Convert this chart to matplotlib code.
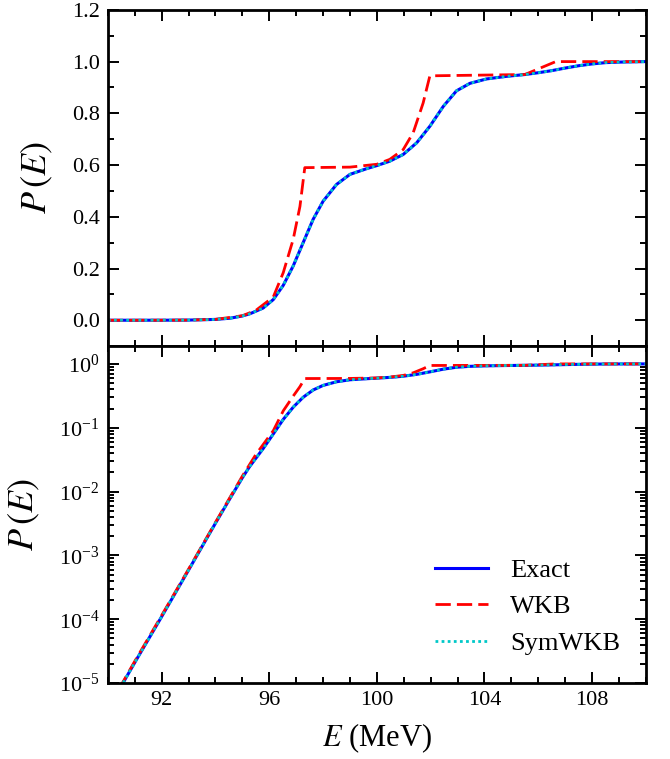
import matplotlib
matplotlib.use("Agg")
import matplotlib.pyplot as plt
from matplotlib.ticker import MultipleLocator, LogLocator, NullFormatter

plt.rcParams['font.family'] = ['Liberation Serif', 'DejaVu Serif']
plt.rcParams['mathtext.fontset'] = 'stix'

# values
energy = [90.0, 91.0, 92.0, 93.0, 94.0, 94.54, 95.0, 95.28, 95.77, 96.15, 96.52,
          96.89, 97.26, 97.63, 98.0, 98.5, 99.0, 99.62, 100.0, 100.48, 100.98,
          101.48, 101.97, 102.47, 102.96, 103.46, 104.08, 104.82, 105.5, 106.0,
          106.5, 107.0, 107.5, 108.0, 108.5, 109.0, 110.0]
p_exact = [3.9e-6, 2.1e-5, 1.1e-4, 5.9e-4, 3.2e-3, 7.8e-3, 0.0165, 0.025, 0.047,
           0.08, 0.135, 0.21, 0.30, 0.39, 0.46, 0.525, 0.564, 0.586, 0.598,
           0.615, 0.641, 0.686, 0.75, 0.827, 0.887, 0.916, 0.933, 0.943, 0.950,
           0.957, 0.965, 0.975, 0.984, 0.991, 0.996, 0.998, 1.0]
p_sym = list(p_exact)

energy_wkb = [90.0, 91.0, 92.0, 93.0, 94.0, 95.0, 95.5, 96.15, 96.52, 96.89, 97.14,
              97.32, 99.0, 100.0, 100.48, 100.98, 101.35, 101.72, 101.97, 105.5,
              106.65, 110.0]
p_wkb = [4.0e-6, 2.2e-5, 1.15e-4, 6.1e-4, 3.3e-3, 0.0175, 0.038, 0.09, 0.184,
         0.313, 0.44, 0.59, 0.592, 0.603, 0.622, 0.66, 0.725, 0.84, 0.945, 0.95,
         1.0, 1.0]

fig = plt.figure(figsize=(6.7, 7.59), dpi=100)
ax1 = fig.add_axes([0.161, 0.544, 0.803, 0.443])
ax2 = fig.add_axes([0.161, 0.100, 0.803, 0.444], sharex=ax1)

for ax in (ax1, ax2):
    ax.plot(energy, p_exact, color='#0000ff', lw=2.2, label='Exact')
    ax.plot(energy_wkb, p_wkb, color='#ff0000', lw=2.0, ls=(0, (5.5, 2.2)), label='WKB')
    ax.plot(energy, p_sym, color='#00c8c8', lw=2.0, ls=(0, (1, 1.2)), label='SymWKB')
    for s in ax.spines.values():
        s.set_linewidth(2.0)
    ax.tick_params(which='both', direction='in', top=True, right=True,
                   labelsize=16, width=1.4, pad=6)
    ax.tick_params(which='major', length=8)
    ax.tick_params(which='minor', length=4)
    ax.set_ylabel(r'$P\,(E)$', fontsize=26, labelpad=12)

ax1.set_xlim(90, 110)
ax1.xaxis.set_major_locator(MultipleLocator(4))
ax1.xaxis.set_minor_locator(MultipleLocator(1))
ax1.set_ylim(-0.1, 1.2)
ax1.yaxis.set_major_locator(MultipleLocator(0.2))
ax1.yaxis.set_minor_locator(MultipleLocator(0.1))
ax1.yaxis.set_major_formatter(plt.FuncFormatter(lambda v, p: f'{v:.1f}'))
ax1.tick_params(labelbottom=False)

ax2.set_yscale('log')
ax2.set_ylim(1e-5, 1.9)
ax2.yaxis.set_major_locator(LogLocator(base=10, numticks=10))
ax2.yaxis.set_minor_locator(LogLocator(base=10, subs=range(2, 10), numticks=10))
ax2.yaxis.set_minor_formatter(NullFormatter())
ax2.set_xlabel(r'$E$ (MeV)', fontsize=22, labelpad=8)
ax2.set_xticks([92, 96, 100, 104, 108])

ax2.legend(loc='lower right', frameon=False, fontsize=19, handlelength=2.0,
           handletextpad=0.85, labelspacing=0.5, borderpad=0, borderaxespad=0,
           bbox_to_anchor=(0.952, 0.083))

fig.savefig('out.png', dpi=100)
